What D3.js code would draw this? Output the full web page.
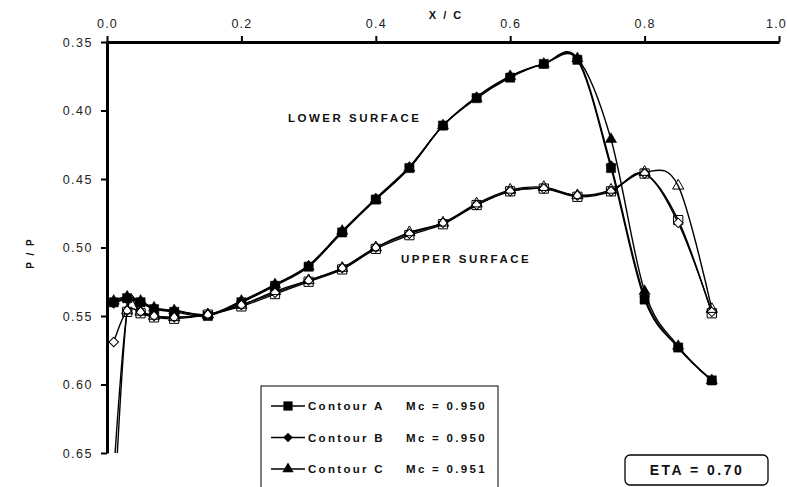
<!DOCTYPE html>
<meta charset="utf-8">
<style>
    body {
        margin: 0;
        padding: 0;
        background: #fff;
    }
    text {
        font-family: "Liberation Sans", Arial, sans-serif;
    }
    .tick text {
        font-size: 12.5px;
        letter-spacing: 1.5px;
        fill: #222;
    }
    .lbl {
        font-weight: bold;
        fill: #111;
    }
</style>
<body>
<script src="https://d3js.org/d3.v7.min.js"></script>
<script>
    // chordwise stations
    var xVals = [0.01, 0.03, 0.05, 0.07, 0.1, 0.15, 0.2, 0.25, 0.3, 0.35, 0.4, 0.45, 0.5, 0.55, 0.6, 0.65, 0.7, 0.75, 0.8, 0.85, 0.9];

    // lower surface
    var lowerA = [0.540, 0.537, 0.540, 0.545, 0.547, 0.550, 0.540, 0.528, 0.514, 0.489, 0.465, 0.442, 0.411, 0.391, 0.376, 0.366, 0.363, 0.442, 0.538, 0.573, 0.597];
    var lowerB = [0.541, 0.538, 0.540, 0.545, 0.546, 0.549, 0.540, 0.527, 0.513, 0.488, 0.464, 0.441, 0.411, 0.390, 0.375, 0.366, 0.362, 0.440, 0.536, 0.573, 0.597];
    var lowerC = [0.539, 0.536, 0.539, 0.544, 0.546, 0.549, 0.539, 0.527, 0.514, 0.488, 0.465, 0.442, 0.411, 0.391, 0.375, 0.366, 0.362, 0.421, 0.532, 0.572, 0.597];

    // upper surface
    var upperA = [0.665, 0.547, 0.548, 0.551, 0.552, 0.549, 0.543, 0.534, 0.525, 0.516, 0.501, 0.491, 0.483, 0.469, 0.459, 0.457, 0.463, 0.459, 0.446, 0.480, 0.548];
    var upperB = [0.569, 0.546, 0.547, 0.550, 0.551, 0.549, 0.542, 0.533, 0.524, 0.515, 0.500, 0.490, 0.482, 0.469, 0.459, 0.457, 0.462, 0.459, 0.446, 0.482, 0.547];
    var upperC = [0.700, 0.546, 0.547, 0.550, 0.551, 0.549, 0.542, 0.532, 0.524, 0.515, 0.500, 0.489, 0.482, 0.468, 0.458, 0.456, 0.462, 0.458, 0.445, 0.455, 0.545];

    var xTicks = [0, 0.2, 0.4, 0.6, 0.8, 1.0];
    var yTicks = [0.35, 0.40, 0.45, 0.50, 0.55, 0.60, 0.65];

    var contours = ["Contour A", "Contour B", "Contour C"];
    var machs = ["Mc = 0.950", "Mc = 0.950", "Mc = 0.951"];

    // marker shapes: square, diamond (rotated square), triangle
    var markers = [
        {type: d3.symbolSquare, size: 85, rot: 0},
        {type: d3.symbolSquare, size: 45, rot: 45},
        {type: d3.symbolTriangle, size: 55, rot: 0}
    ];

    var width = 787, height = 487;

    var x = d3.scaleLinear().domain([0, 1]).range([107, 779]);
    var y = d3.scaleLinear().domain([0.35, 0.65]).range([42, 453]);

    var svg = d3.select("body")
        .append("svg")
        .attr("width", width)
        .attr("height", height);

    svg.append("defs").append("clipPath")
        .attr("id", "plot")
        .append("rect")
        .attr("x", x(0)).attr("y", y(0.35))
        .attr("width", x(1) - x(0)).attr("height", y(0.65) - y(0.35));

    var series = [
        {vals: lowerA, k: 0, open: false},
        {vals: lowerB, k: 1, open: false},
        {vals: lowerC, k: 2, open: false},
        {vals: upperA, k: 0, open: true},
        {vals: upperB, k: 1, open: true},
        {vals: upperC, k: 2, open: true}
    ];

    var line = d3.line()
        .x(function(d) { return x(d[0]); })
        .y(function(d) { return y(d[1]); })
        .curve(d3.curveCatmullRom.alpha(0));

    var plot = svg.append("g").attr("clip-path", "url(#plot)");

    series.forEach(function(s) {
        s.pts = xVals.map(function(v, i) { return [v, s.vals[i]]; });
        plot.append("path")
            .datum(s.pts)
            .attr("d", line)
            .style("fill", "none")
            .style("stroke", "#000")
            .style("stroke-width", 1.4);
    });

    series.forEach(function(s) {
        var m = markers[s.k];
        var sym = d3.symbol().type(m.type).size(m.size);
        plot.append("g")
            .selectAll("path")
            .data(s.pts.filter(function(p) { return p[1] <= 0.65; }))
            .enter().append("path")
            .attr("d", sym)
            .attr("transform", function(p) {
                return "translate(" + x(p[0]) + "," + y(p[1]) + ") rotate(" + m.rot + ")";
            })
            .style("fill", s.open ? (s.k == 1 ? "#fff" : "none") : "#000")
            .style("stroke", "#000")
            .style("stroke-width", s.open ? 1 : 0.5);
    });

    // axes
    var xAxis = svg.append("g")
        .attr("transform", "translate(0," + y(0.35) + ")")
        .call(d3.axisTop(x).tickValues(xTicks).tickFormat(d3.format(".1f")).tickSize(6).tickSizeOuter(0).tickPadding(8));
    var yAxis = svg.append("g")
        .attr("transform", "translate(" + x(0) + ",0)")
        .call(d3.axisLeft(y).tickValues(yTicks).tickFormat(d3.format(".2f")).tickSize(6).tickSizeOuter(0).tickPadding(8));
    [xAxis, yAxis].forEach(function(a) {
        a.select(".domain").style("stroke", "#000").style("stroke-width", 3);
        a.selectAll(".tick line").style("stroke", "#000").style("stroke-width", 2);
        a.selectAll(".tick text").style("font-family", "'Liberation Sans', Arial, sans-serif").style("font-size", "12.5px");
    });
    xAxis.selectAll(".tick text")
        .style("letter-spacing", "1.2px")
        .attr("dx", function(d) { return d == 1 ? -3 : 0; });

    svg.append("text").attr("class", "lbl")
        .attr("x", 446).attr("y", 19)
        .attr("text-anchor", "middle")
        .style("font-size", "11px").style("letter-spacing", "2px")
        .text("X / C");

    svg.append("text").attr("class", "lbl")
        .attr("transform", "translate(34,253) rotate(-90)")
        .attr("text-anchor", "middle")
        .style("font-size", "10px").style("letter-spacing", "2px")
        .text("P / P");

    svg.append("text").attr("class", "lbl")
        .attr("x", 288).attr("y", 122)
        .style("font-size", "11.5px").style("letter-spacing", "2.5px")
        .text("LOWER SURFACE");
    svg.append("text").attr("class", "lbl")
        .attr("x", 401).attr("y", 263)
        .style("font-size", "11.5px").style("letter-spacing", "2.5px")
        .text("UPPER SURFACE");

    // legend
    var legend = svg.append("g");
    legend.append("rect")
        .attr("x", 261).attr("y", 386)
        .attr("width", 237).attr("height", 120)
        .style("fill", "#fff").style("stroke", "#000").style("stroke-width", 1);

    contours.forEach(function(c, i) {
        var ly = 406 + i * 31.5;
        var m = markers[i];
        legend.append("line")
            .attr("x1", 271).attr("x2", 305)
            .attr("y1", ly).attr("y2", ly)
            .style("stroke", "#000").style("stroke-width", 1.4);
        legend.append("path")
            .attr("d", d3.symbol().type(m.type).size(m.size)())
            .attr("transform", "translate(288," + ly + ") rotate(" + m.rot + ")")
            .style("fill", "#000");
        legend.append("text").attr("class", "lbl")
            .attr("x", 308).attr("y", ly + 4)
            .style("font-size", "11.5px").style("letter-spacing", "2.3px")
            .text(c);
        legend.append("text").attr("class", "lbl")
            .attr("x", 406).attr("y", ly + 4)
            .style("font-size", "11.5px").style("letter-spacing", "2.3px")
            .text(machs[i]);
    });

    // ETA box
    svg.append("rect")
        .attr("x", 625).attr("y", 455)
        .attr("width", 143).attr("height", 30)
        .attr("rx", 5)
        .style("fill", "#fff").style("stroke", "#000").style("stroke-width", 1.3);
    svg.append("text").attr("class", "lbl")
        .attr("x", 697).attr("y", 475)
        .attr("text-anchor", "middle")
        .style("font-size", "14px").style("letter-spacing", "2.5px")
        .text("ETA = 0.70");
</script>
</body>
</html>
